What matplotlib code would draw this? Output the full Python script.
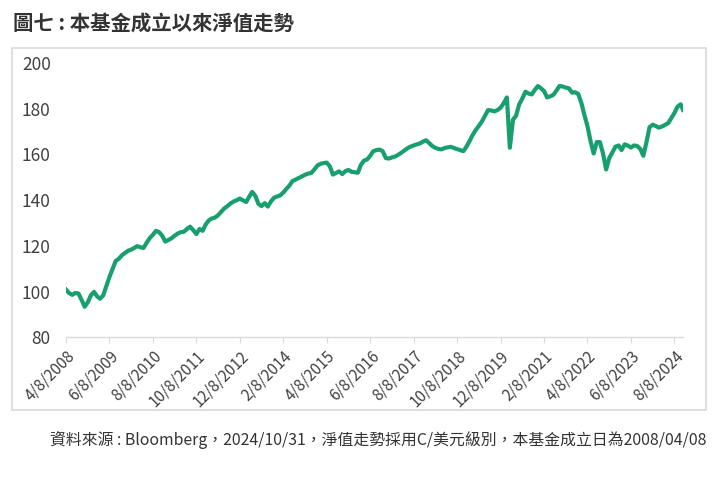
import pandas as pd
import matplotlib
matplotlib.use("Agg")
import matplotlib.pyplot as plt
import matplotlib.dates as mdates
from matplotlib.patches import Rectangle

plt.rcParams['font.family'] = ['Noto Sans CJK TC', 'DejaVu Sans']

# 資料：月度淨值
start_date = '2008-04-08'
end_date = '2024-10-31'
nav = [
    100.5, 99, 98.2, 99, 98.8, 96, 93, 95, 98, 99.5,
    97.5, 96.5, 98, 102, 106, 109.5, 113, 114, 115.5, 116.5,
    117.5, 118, 118.8, 119.5, 119, 118.7, 121, 123, 124.5, 126.2,
    125.6, 124, 121.5, 122.2, 123, 124, 125, 125.6, 125.8, 127,
    128, 126.5, 124.8, 127, 126.2, 129, 130.8, 131.6, 132, 133,
    134.5, 136, 137, 138.2, 139, 139.6, 140.3, 139.5, 138.8, 141,
    143.2, 141.5, 138, 137, 138.3, 136.8, 139, 140.7, 141.2, 141.7,
    143, 144.5, 146, 148, 148.6, 149.3, 150, 150.7, 151.2, 151.5,
    153, 154.8, 155.5, 155.8, 156, 154.5, 150.8, 151.5, 152.2, 151,
    152.3, 152.8, 152, 151.8, 151.6, 155, 156.9, 157.4, 159, 161,
    161.5, 161.7, 161, 158, 157.8, 158.3, 158.7, 159.4, 160.3, 161.3,
    162.3, 163, 163.5, 164, 164.4, 165.2, 165.8, 164.5, 163.2, 162.5,
    162, 161.8, 162.4, 162.7, 162.9, 162.4, 161.9, 161.5, 161, 163,
    165.5, 168, 170.2, 172, 174, 176.5, 179, 178.8, 178.4, 179,
    180, 182, 184.5, 162.5, 174.8, 176.5, 181.5, 184, 187, 186.2,
    185.8, 187.8, 189.5, 188.5, 187.2, 184.5, 185, 185.6, 187.5, 189.5,
    189.3, 188.8, 188.5, 186.6, 186.8, 186, 182, 177, 172, 165.5,
    160, 165, 165, 160, 153, 158, 160.5, 163, 163.5, 161.5,
    164, 163.5, 162.6, 163.5, 163.3, 162, 159, 165, 171.5, 172.6,
    172, 171.3, 171.8, 172.5, 173.3, 175.5, 177.7, 180.5, 181.5,
    179.1,
]
tick_labels = ['4/8/2008', '6/8/2009', '8/8/2010', '10/8/2011', '12/8/2012',
               '2/8/2014', '4/8/2015', '6/8/2016', '8/8/2017', '10/8/2018',
               '12/8/2019', '2/8/2021', '4/8/2022', '6/8/2023', '8/8/2024']
y_ticks = [80, 100, 120, 140, 160, 180, 200]

title = '圖七 : 本基金成立以來淨值走勢'
note = '資料來源 : Bloomberg，2024/10/31，淨值走勢採用C/美元級別，本基金成立日為2008/04/08'

start = pd.Timestamp(start_date)
dates = [start + pd.DateOffset(months=i) for i in range(len(nav) - 1)]
dates.append(pd.Timestamp(end_date))
tick_dates = [pd.Timestamp(pd.to_datetime(t, format='%m/%d/%Y')) for t in tick_labels]

W, H = 725, 485
fig = plt.figure(figsize=(W / 100, H / 100), dpi=100)

# 外框
fig.patches.append(Rectangle((12 / W, 1 - 411 / H), (706 - 12) / W, (411 - 49) / H,
                             transform=fig.transFigure, fill=False,
                             edgecolor='#d9d9d9', linewidth=1.2))

ax = fig.add_axes([66 / W, 1 - 337.5 / H, (683 - 66) / W, (337.5 - 63) / H])
ax.plot(dates, nav, color='#17a06e', linewidth=3.0, solid_joinstyle='round')

ax.set_xlim(mdates.date2num(start), mdates.date2num(pd.Timestamp(end_date)))
ax.set_ylim(80, 200)
ax.set_yticks(y_ticks)
ax.set_xticks(tick_dates)
ax.set_xticklabels(tick_labels, rotation=45, ha='right', rotation_mode='anchor')

for s in ['top', 'right', 'left']:
    ax.spines[s].set_visible(False)
ax.spines['bottom'].set_color('#d9d9d9')
ax.spines['bottom'].set_linewidth(1)
ax.tick_params(axis='y', length=0, pad=11, labelsize=12.5, labelcolor='#404040')
ax.tick_params(axis='x', length=4, color='#d9d9d9', pad=3, labelsize=11, labelcolor='#404040')

fig.text(13 / W, 1 - 23 / H, title, fontsize=14.7, fontweight='bold',
         color='#333333', ha='left', va='center')
fig.text(706 / W, 1 - 440 / H, note, fontsize=11.4, color='#333333',
         ha='right', va='center')

fig.savefig('out.png', dpi=100)
